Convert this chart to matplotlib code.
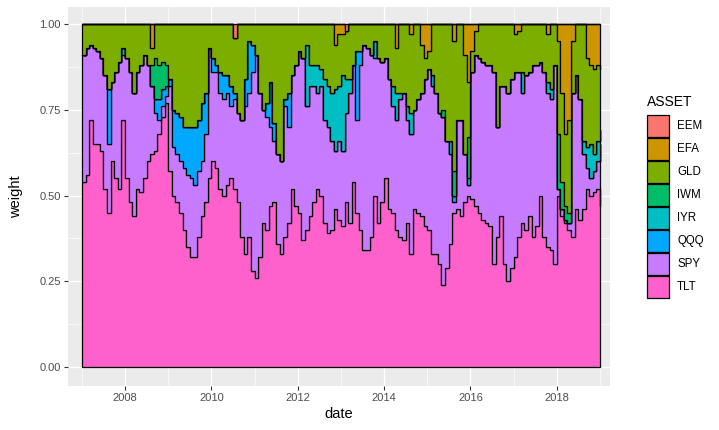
import numpy as np
import pandas as pd
import matplotlib
matplotlib.use("Agg")
import matplotlib.pyplot as plt
import matplotlib.dates as mdates
from matplotlib.patches import Rectangle

plt.rcParams["font.family"] = ["Liberation Sans", "DejaVu Sans"]

# monthly rebalance dates (weight held until the next date)
dates = pd.date_range("2007-01-01", "2019-01-01", freq="MS")

tlt = [0.54, 0.56, 0.72, 0.65, 0.65, 0.63, 0.52, 0.45, 0.60, 0.55, 0.52, 0.72,
       0.55, 0.48, 0.44, 0.52, 0.51, 0.55, 0.60, 0.62, 0.63, 0.68, 0.73, 0.77,
       0.57, 0.50, 0.48, 0.45, 0.40, 0.35, 0.32, 0.32, 0.38, 0.44, 0.48, 0.55,
       0.60, 0.58, 0.52, 0.50, 0.53, 0.55, 0.52, 0.48, 0.38, 0.33, 0.38, 0.28,
       0.26, 0.32, 0.42, 0.40, 0.47, 0.48, 0.36, 0.33, 0.38, 0.42, 0.52, 0.47,
       0.45, 0.37, 0.40, 0.44, 0.48, 0.52, 0.50, 0.42, 0.39, 0.40, 0.46, 0.43,
       0.41, 0.48, 0.42, 0.54, 0.45, 0.40, 0.34, 0.34, 0.38, 0.50, 0.42, 0.48,
       0.55, 0.46, 0.45, 0.40, 0.38, 0.37, 0.42, 0.33, 0.46, 0.45, 0.44, 0.41,
       0.40, 0.33, 0.33, 0.30, 0.24, 0.29, 0.36, 0.45, 0.46, 0.44, 0.48, 0.50,
       0.49, 0.47, 0.45, 0.43, 0.42, 0.41, 0.30, 0.38, 0.44, 0.30, 0.25, 0.29,
       0.32, 0.38, 0.42, 0.40, 0.44, 0.38, 0.41, 0.50, 0.38, 0.35, 0.34, 0.30,
       0.50, 0.44, 0.42, 0.40, 0.38, 0.46, 0.43, 0.46, 0.52, 0.50, 0.51, 0.52,
       0.47]

spy = [0.37, 0.37, 0.22, 0.28, 0.27, 0.27, 0.33, 0.20, 0.23, 0.31, 0.37, 0.19,
       0.35, 0.38, 0.36, 0.34, 0.37, 0.36, 0.28, 0.20, 0.11, 0.04, 0.03, 0.02,
       0.25, 0.14, 0.14, 0.15, 0.18, 0.21, 0.23, 0.21, 0.19, 0.16, 0.20, 0.38,
       0.26, 0.28, 0.28, 0.28, 0.27, 0.21, 0.26, 0.26, 0.34, 0.43, 0.42, 0.58,
       0.65, 0.48, 0.33, 0.33, 0.23, 0.18, 0.26, 0.27, 0.38, 0.28, 0.33, 0.41,
       0.47, 0.53, 0.36, 0.38, 0.34, 0.28, 0.32, 0.30, 0.31, 0.26, 0.17, 0.23,
       0.22, 0.26, 0.38, 0.34, 0.27, 0.48, 0.60, 0.59, 0.53, 0.40, 0.48, 0.41,
       0.35, 0.38, 0.31, 0.32, 0.40, 0.43, 0.30, 0.35, 0.29, 0.33, 0.36, 0.43,
       0.47, 0.49, 0.47, 0.44, 0.49, 0.37, 0.26, 0.03, 0.26, 0.28, 0.14, 0.03,
       0.37, 0.44, 0.45, 0.46, 0.46, 0.47, 0.56, 0.32, 0.38, 0.52, 0.55, 0.55,
       0.54, 0.48, 0.38, 0.45, 0.42, 0.50, 0.47, 0.39, 0.48, 0.45, 0.44, 0.58,
       0.02, 0.02, 0.01, 0.02, 0.42, 0.39, 0.35, 0.16, 0.06, 0.05, 0.06, 0.08,
       0.18]

# smaller positions, only months where they are held
qqq = {"2007-08": 0.16, "2007-12": 0.02, "2008-09": 0.04, "2008-10": 0.06,
       "2008-11": 0.05, "2008-12": 0.03, "2009-01": 0.02, "2009-02": 0.11,
       "2009-03": 0.12, "2009-04": 0.13, "2009-05": 0.12, "2009-06": 0.14,
       "2009-07": 0.15, "2009-08": 0.17, "2009-09": 0.15, "2009-10": 0.17,
       "2009-11": 0.12, "2010-01": 0.04, "2010-02": 0.02, "2010-03": 0.06,
       "2010-04": 0.07, "2010-05": 0.05, "2010-06": 0.06, "2010-07": 0.02,
       "2010-10": 0.08, "2010-11": 0.15, "2010-12": 0.08, "2011-04": 0.04,
       "2011-05": 0.13, "2011-06": 0.05, "2011-09": 0.02, "2011-10": 0.10,
       "2013-05": 0.20, "2013-06": 0.04, "2013-10": 0.05, "2015-08": 0.02}

iyr = {"2012-03": 0.18, "2012-04": 0.06, "2012-05": 0.06, "2012-06": 0.08,
       "2012-07": 0.05, "2012-08": 0.12, "2012-09": 0.12, "2012-10": 0.14,
       "2012-11": 0.18, "2012-12": 0.16, "2013-01": 0.22, "2013-02": 0.10,
       "2013-03": 0.04, "2014-03": 0.06, "2014-04": 0.08, "2014-05": 0.02,
       "2014-07": 0.04, "2014-08": 0.06, "2015-02": 0.03, "2015-07": 0.04,
       "2015-12": 0.02, "2017-03": 0.06, "2017-10": 0.03, "2017-11": 0.03,
       "2018-08": 0.04, "2018-09": 0.06, "2018-10": 0.10, "2018-11": 0.05,
       "2018-12": 0.06, "2019-01": 0.04}

iwm = {"2008-08": 0.06, "2008-09": 0.12, "2008-10": 0.10, "2008-11": 0.08,
       "2008-12": 0.06, "2015-05": 0.02, "2015-08": 0.07, "2015-12": 0.12,
       "2018-01": 0.16, "2018-02": 0.08, "2018-03": 0.04, "2018-04": 0.03}

efa = {"2008-08": 0.07, "2012-11": 0.06, "2012-12": 0.03, "2013-01": 0.03,
       "2014-04": 0.07, "2014-08": 0.03, "2014-11": 0.06, "2014-12": 0.10,
       "2015-01": 0.08, "2015-08": 0.05, "2015-11": 0.09, "2015-12": 0.17,
       "2016-01": 0.08, "2016-02": 0.02, "2017-01": 0.03, "2017-02": 0.02,
       "2017-10": 0.03, "2018-01": 0.05, "2018-02": 0.20, "2018-03": 0.32,
       "2018-04": 0.28, "2018-05": 0.05, "2018-09": 0.10, "2018-10": 0.12,
       "2018-11": 0.13, "2018-12": 0.12, "2019-01": 0.13}

eem = {"2010-07": 0.04, "2013-02": 0.02}

assets = ["EEM", "EFA", "GLD", "IWM", "IYR", "QQQ", "SPY", "TLT"]
colors = ["#F8766D", "#CD9600", "#7CAE00", "#00BE67",
          "#00BFC4", "#00A9FF", "#C77CFF", "#FF61CC"]


def monthly(d):
    s = pd.Series(0.0, index=dates)
    for k, v in d.items():
        s[pd.Timestamp(k + "-01")] = v
    return s.values


w = pd.DataFrame({
    "TLT": tlt, "SPY": spy, "QQQ": monthly(qqq), "IYR": monthly(iyr),
    "IWM": monthly(iwm), "EFA": monthly(efa), "EEM": monthly(eem),
}, index=dates)
# gold takes whatever is left so each row sums to one
w["GLD"] = (1 - w.sum(axis=1)).clip(lower=0)

fig = plt.figure(figsize=(7.19, 4.30), dpi=100)
ax = fig.add_axes([68 / 719, 44 / 430, 542 / 719, 379 / 430])
ax.set_facecolor("#EBEBEB")

stack_order = ["TLT", "SPY", "QQQ", "IYR", "IWM", "GLD", "EFA", "EEM"]
col = dict(zip(assets, colors))
base = np.zeros(len(w))
for a in stack_order:
    top = base + w[a].values
    ax.fill_between(w.index, base, top, step="post", facecolor=col[a],
                    edgecolor="black", linewidth=0.9, zorder=3)
    base = top

ax.set_xlim(pd.Timestamp("2006-09-05"), pd.Timestamp("2019-03-27"))
ax.set_ylim(-0.0554, 1.0496)

ax.xaxis.set_major_locator(mdates.YearLocator(2, month=1, day=1))
ax.xaxis.set_major_formatter(mdates.DateFormatter("%Y"))
ax.xaxis.set_minor_locator(mdates.YearLocator(1))
ax.set_yticks([0, 0.25, 0.5, 0.75, 1.0])
ax.set_yticklabels(["0.00", "0.25", "0.50", "0.75", "1.00"])
ax.set_yticks([0.125, 0.375, 0.625, 0.875], minor=True)

ax.grid(which="major", color="white", linewidth=1.0, zorder=0)
ax.grid(which="minor", color="white", linewidth=0.5, zorder=0)
ax.set_axisbelow(True)
for s in ax.spines.values():
    s.set_visible(False)
ax.tick_params(which="major", length=3, width=0.8, color="#333333",
               labelcolor="#4D4D4D", labelsize=8, pad=2)
ax.tick_params(which="minor", length=0)

ax.set_xlabel("date", fontsize=10.5, labelpad=3)
ax.set_ylabel("weight", fontsize=10.5, labelpad=12)

# legend
fig.text(647 / 719, 1 - 102 / 430, "ASSET", fontsize=10, va="center",
         ha="left")
for i, (a, c) in enumerate(zip(assets, colors)):
    y0 = 115 + 23 * i
    fig.add_artist(Rectangle((647 / 719, 1 - (y0 + 22) / 430), 22 / 719,
                             22 / 430, transform=fig.transFigure,
                             facecolor=c, edgecolor="black", linewidth=0.9))
    fig.text(677 / 719, 1 - (y0 + 11) / 430, a, fontsize=8.3, va="center",
             ha="left")

fig.savefig("out.png", dpi=100)
